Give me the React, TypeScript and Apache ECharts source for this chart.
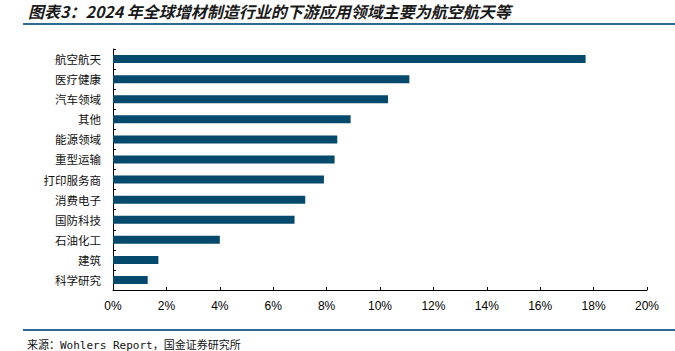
import React, { useEffect, useRef } from "react";
import * as echarts from "echarts";

const categories = [
  "航空航天",
  "医疗健康",
  "汽车领域",
  "其他",
  "能源领域",
  "重型运输",
  "打印服务商",
  "消费电子",
  "国防科技",
  "石油化工",
  "建筑",
  "科学研究",
];
const shares = [17.7, 11.1, 10.3, 8.9, 8.4, 8.3, 7.9, 7.2, 6.8, 4.0, 1.7, 1.3];
const xTicks = { min: 0, max: 20, interval: 2 };

const titleText = "图表3：2024 年全球增材制造行业的下游应用领域主要为航空航天等";
const sourceText = "来源：Wohlers Report，国金证券研究所";

export default function App() {
  const ref = useRef<HTMLDivElement>(null);
  useEffect(() => {
    if (!ref.current) return;
    const chart = echarts.init(ref.current, undefined, { renderer: "svg" });
    chart.setOption({
      animation: false,
      backgroundColor: "#ffffff",
      grid: { left: 113, right: 28, top: 49, bottom: 61, containLabel: false },
      xAxis: {
        type: "value",
        min: xTicks.min,
        max: xTicks.max,
        interval: xTicks.interval,
        axisLine: { show: true, lineStyle: { color: "#000", width: 1 } },
        axisTick: { show: true, inside: true, length: 3, lineStyle: { color: "#000" } },
        splitLine: { show: false },
        axisLabel: {
          formatter: "{value}%",
          color: "#000",
          fontSize: 12,
          fontFamily: "Liberation Sans, Arial, sans-serif",
          margin: 10,
        },
      },
      yAxis: {
        type: "category",
        inverse: true,
        data: categories,
        axisLine: { show: true, lineStyle: { color: "#000", width: 1 } },
        axisTick: { show: true, inside: true, length: 3, lineStyle: { color: "#000" } },
        axisLabel: {
          color: "#111",
          fontSize: 11.5,
          fontFamily: "Noto Sans CJK SC, sans-serif",
          margin: 12,
        },
      },
      series: [
        {
          type: "bar",
          data: shares,
          barWidth: 8,
          itemStyle: { color: "#054a6d" },
        },
      ],
      graphic: [
        {
          type: "text",
          x: 28,
          y: 11,
          style: {
            text: titleText,
            font: "italic bold 16px 'Noto Sans CJK SC', sans-serif",
            fill: "#1a1a1a",
            verticalAlign: "middle",
            align: "left",
          },
        },
        {
          type: "line",
          shape: { x1: 23, y1: 24, x2: 675, y2: 24 },
          style: { stroke: "#2f6a92", lineWidth: 2 },
        },
        {
          type: "line",
          shape: { x1: 23, y1: 330, x2: 675, y2: 330 },
          style: { stroke: "#2f6a92", lineWidth: 2 },
        },
        {
          type: "text",
          x: 27,
          y: 345,
          style: {
            text: sourceText,
            font: "11px 'DejaVu Sans Mono', 'Noto Sans CJK SC', monospace",
            fill: "#111",
            verticalAlign: "middle",
            align: "left",
          },
        },
      ],
    });
    return () => chart.dispose();
  }, []);
  return (
    <div
      ref={ref}
      style={{ width: 675, height: 351, position: "absolute", left: 0, top: 0 }}
    />
  );
}
